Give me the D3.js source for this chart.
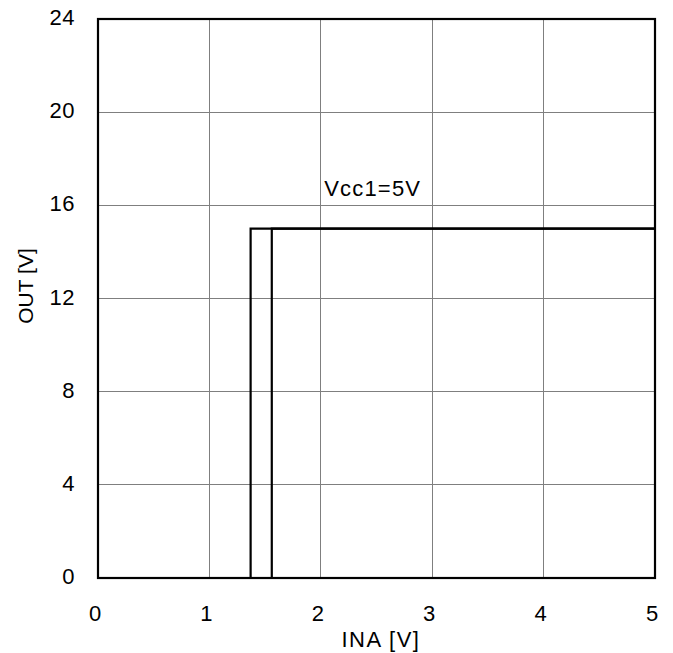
<!DOCTYPE html>
<html><head><meta charset="utf-8">
<script src="https://cdn.jsdelivr.net/npm/d3@7"></script>
<style>body{margin:0;background:#fff}svg{display:block}text{font-family:"Liberation Sans",Arial,sans-serif;fill:#000}</style>
</head><body>
<svg id="c" width="673" height="653"></svg>
<script>
const xTicks = [0, 1, 2, 3, 4, 5];
const yTicks = [0, 4, 8, 12, 16, 20, 24];
const seriesLow = [[0, 0], [1.37, 0], [1.37, 15], [5, 15]];
const seriesHigh = [[0, 0], [1.56, 0], [1.56, 15], [5, 15]];
const annotation = {text: "Vcc1=5V", x: 2.03, y: 16.4};
const xTitle = "INA [V]";
const yTitle = "OUT [V]";

const svg = d3.select("#c");
const L = 98, R = 655, T = 19, B = 578;
const x = d3.scaleLinear().domain([0, 5]).range([L, R]);
const y = d3.scaleLinear().domain([0, 24]).range([B, T]);

// grid
svg.append("g").selectAll("line").data(xTicks.slice(1, -1)).join("line")
  .attr("x1", d => x(d)).attr("x2", d => x(d)).attr("y1", T).attr("y2", B)
  .attr("stroke", "#7f7f7f").attr("stroke-width", 1).attr("shape-rendering", "crispEdges");
svg.append("g").selectAll("line").data(yTicks.slice(1, -1)).join("line")
  .attr("y1", d => y(d)).attr("y2", d => y(d)).attr("x1", L).attr("x2", R)
  .attr("stroke", "#7f7f7f").attr("stroke-width", 1).attr("shape-rendering", "crispEdges");

// tick labels
svg.append("g").selectAll("text").data(yTicks).join("text")
  .attr("x", 75).attr("y", d => y(d) + 6).attr("text-anchor", "end")
  .attr("font-size", 22).attr("letter-spacing", 0.5).text(d => d);
svg.append("g").selectAll("text").data(xTicks).join("text")
  .attr("x", d => x(d) - 3).attr("y", 621).attr("text-anchor", "middle")
  .attr("font-size", 22).text(d => d);

// titles
svg.append("text").attr("x", 381).attr("y", 647).attr("text-anchor", "middle")
  .attr("font-size", 22).attr("letter-spacing", 1.5).text(xTitle);
svg.append("text").attr("transform", "translate(33,286) rotate(-90)").attr("text-anchor", "middle")
  .attr("font-size", 21).text(yTitle);

// series
const line = d3.line().x(d => x(d[0])).y(d => y(d[1]));
[seriesLow, seriesHigh].forEach(s => {
  svg.append("path").attr("d", line(s)).attr("fill", "none")
    .attr("stroke", "#000").attr("stroke-width", 2.2);
});

// annotation
svg.append("text").attr("x", x(annotation.x)).attr("y", y(annotation.y))
  .attr("font-size", 22).attr("letter-spacing", 1.2).text(annotation.text);

// frame
svg.append("rect").attr("x", L).attr("y", T).attr("width", R - L).attr("height", B - T)
  .attr("fill", "none").attr("stroke", "#000").attr("stroke-width", 2.2);
</script>
</body></html>
